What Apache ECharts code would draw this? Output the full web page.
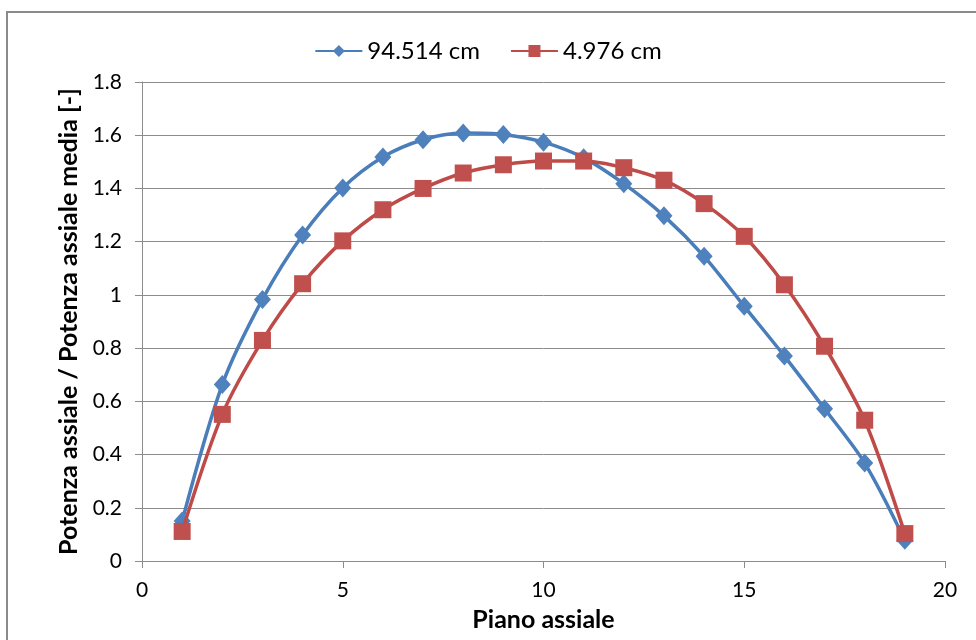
<!DOCTYPE html>
<html>
<head>
<meta charset="utf-8">
<script src="https://cdn.jsdelivr.net/npm/echarts@6/dist/echarts.min.js"></script>
<style>html,body{margin:0;padding:0;background:#fff;}#c{width:976px;height:640px;}</style>
</head>
<body>
<div id="c"></div>
<script>
const planes = [1,2,3,4,5,6,7,8,9,10,11,12,13,14,15,16,17,18,19];
const seriesNames = ['94.514 cm', '4.976 cm'];
const valuesA = [0.15,0.663,0.983,1.225,1.402,1.518,1.583,1.608,1.603,1.574,1.515,1.418,1.297,1.145,0.957,0.770,0.572,0.368,0.078];
const valuesB = [0.111,0.551,0.829,1.042,1.203,1.320,1.400,1.458,1.489,1.503,1.503,1.478,1.431,1.343,1.220,1.038,0.807,0.529,0.103];
const xTicks = [0,5,10,15,20];
const yTicks = [0,0.2,0.4,0.6,0.8,1,1.2,1.4,1.6,1.8];
const xTitle = 'Piano assiale';
const yTitle = 'Potenza assiale / Potenza assiale media [-]';

const font = 'Lato, "Open Sans", sans-serif';
const gridCol = '#8c8c8c';
const chart = echarts.init(document.getElementById('c'), null, {renderer:'canvas'});
chart.setOption({
  animation:false,
  backgroundColor:'#ffffff',
  graphic:[{type:'rect', shape:{x:7,y:12,width:1000,height:700}, style:{fill:'none', stroke:'#8a8a8a', lineWidth:2}, silent:true, z:-1}],
  legend:{
    top:34, left:'center', itemGap:30, itemWidth:47, itemHeight:15,
    textStyle:{fontFamily:font, fontSize:24, color:'#000'},
    data:seriesNames
  },
  grid:{left:142, top:82, right:31, bottom:79},
  xAxis:{
    type:'value', min:xTicks[0], max:xTicks[xTicks.length-1], interval:5,
    name:xTitle, nameLocation:'middle', nameGap:46,
    nameTextStyle:{fontFamily:font, fontSize:25, fontWeight:'bold', color:'#000'},
    axisLine:{show:true, lineStyle:{color:gridCol, width:1}},
    axisTick:{show:true, length:7, lineStyle:{color:gridCol}},
    axisLabel:{fontFamily:font, fontSize:21, color:'#000', margin:19},
    splitLine:{show:false}
  },
  yAxis:{
    type:'value', min:yTicks[0], max:yTicks[yTicks.length-1], interval:0.2,
    name:yTitle, nameLocation:'middle', nameGap:57, nameRotate:90,
    nameTextStyle:{fontFamily:font, fontSize:25, fontWeight:'bold', color:'#000'},
    axisLine:{show:true, lineStyle:{color:gridCol, width:1}},
    axisTick:{show:true, length:7, lineStyle:{color:gridCol}},
    axisLabel:{fontFamily:font, fontSize:21, color:'#000', margin:20},
    splitLine:{show:true, lineStyle:{color:gridCol, width:1}}
  },
  series:[
    {name:seriesNames[0], type:'line', smooth:0.3,
     data:planes.map((p,i)=>[p,valuesA[i]]),
     symbol:'diamond', symbolSize:[17,19],
     lineStyle:{color:'#4A7EBB', width:3.5},
     itemStyle:{color:'#4F81BD'}, z:2},
    {name:seriesNames[1], type:'line', smooth:0.3,
     data:planes.map((p,i)=>[p,valuesB[i]]),
     symbol:'rect', symbolSize:17,
     lineStyle:{color:'#BE4B48', width:3.5},
     itemStyle:{color:'#C0504D'}, z:3}
  ]
});
</script>
</body>
</html>
